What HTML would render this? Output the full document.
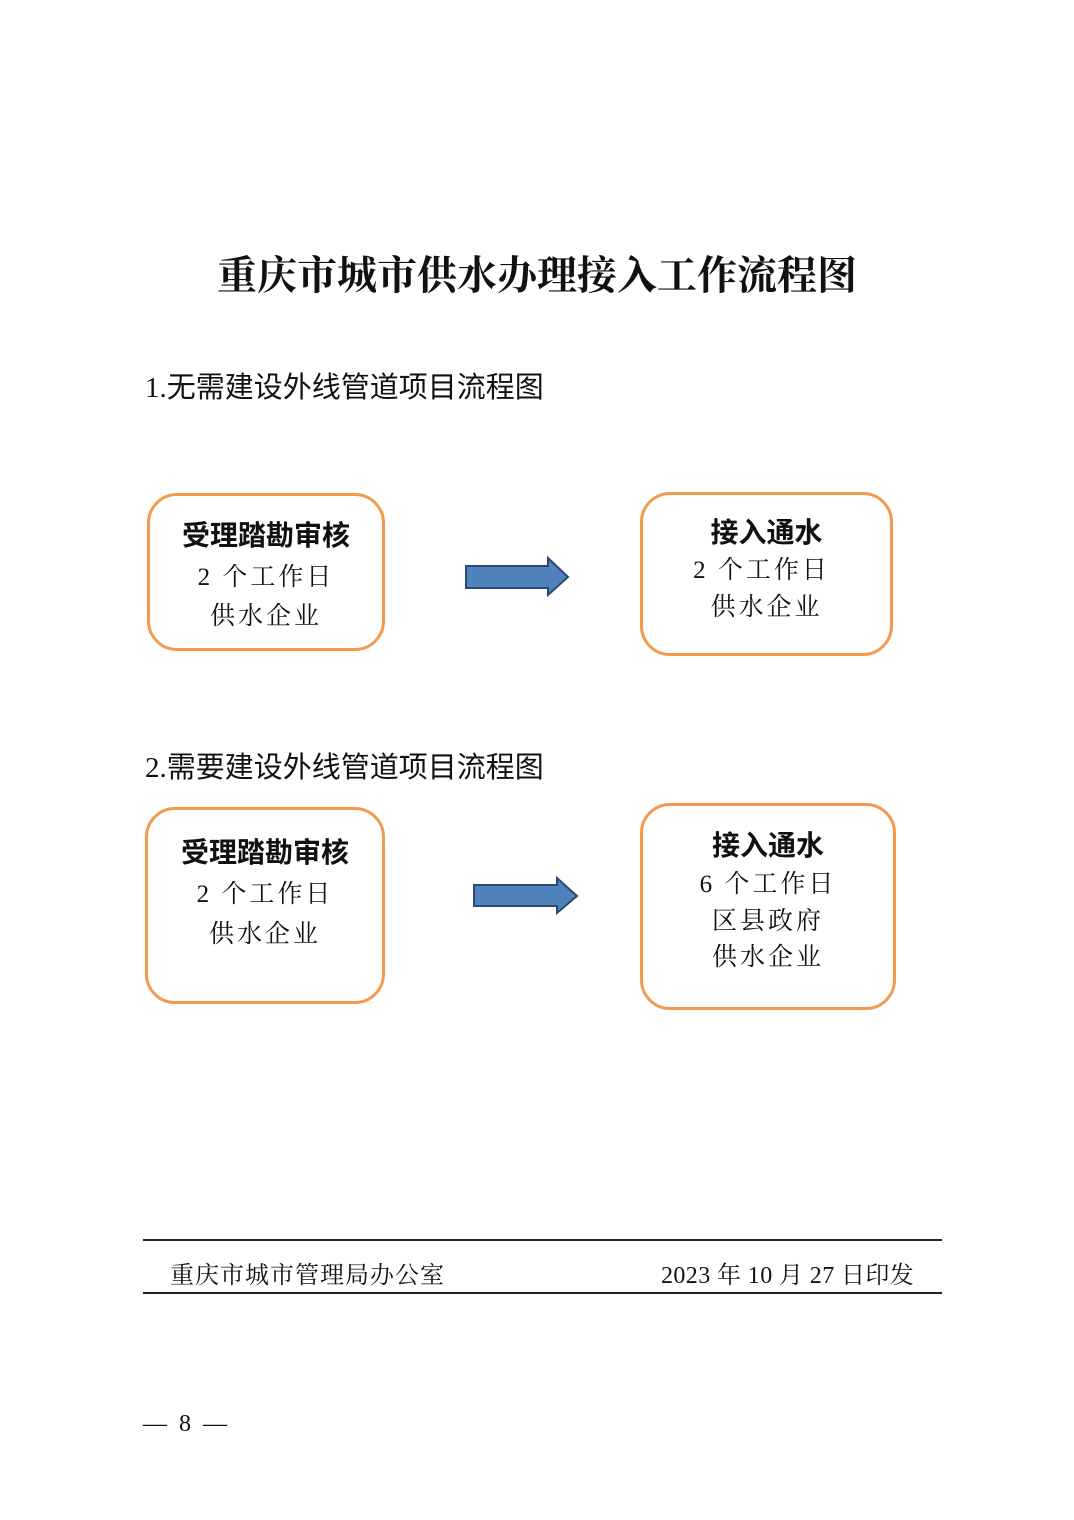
<!DOCTYPE html>
<html><head><meta charset="utf-8"><style>
body{margin:0;width:1074px;height:1520px;background:#fff;position:relative;overflow:hidden;font-family:"Liberation Serif","Noto Serif CJK SC",serif;color:#111}
.a{position:absolute;white-space:nowrap}
.box{position:absolute;border:3px solid #F29B4E;border-radius:30px;box-sizing:border-box}
.t{position:absolute;left:0;right:0;text-align:center;white-space:nowrap}
.h{font-family:"Liberation Sans","Noto Sans CJK SC",sans-serif;font-weight:bold;font-size:28px}
.s{font-size:25px;letter-spacing:3px}
.line{position:absolute;left:143px;width:799px;height:2px;background:#222}
</style></head><body>
<div class="a" style="left:0;right:0;text-align:center;top:244px;font-size:40px;font-weight:bold;font-family:'Noto Serif CJK SC',serif">重庆市城市供水办理接入工作流程图</div>
<div class="a" style="left:145px;top:364px;font-size:29px;font-family:'Liberation Serif','Noto Sans CJK SC',sans-serif">1.无需建设外线管道项目流程图</div>
<div class="a" style="left:145px;top:744px;font-size:29px;font-family:'Liberation Serif','Noto Sans CJK SC',sans-serif">2.需要建设外线管道项目流程图</div>

<div class="box" style="left:147px;top:493px;width:238px;height:158px">
<div class="t h" style="top:18px">受理踏勘审核</div>
<div class="t s" style="top:61px">2 个工作日</div>
<div class="t s" style="top:100px">供水企业</div>
</div>
<div class="box" style="left:640px;top:492px;width:253px;height:164px">
<div class="t h" style="top:16px">接入通水</div>
<div class="t s" style="top:55px;left:-10px">2 个工作日</div>
<div class="t s" style="top:92px">供水企业</div>
</div>
<div class="box" style="left:145px;top:807px;width:240px;height:197px">
<div class="t h" style="top:21px">受理踏勘审核</div>
<div class="t s" style="top:64px">2 个工作日</div>
<div class="t s" style="top:104px">供水企业</div>
</div>
<div class="box" style="left:640px;top:803px;width:256px;height:207px">
<div class="t h" style="top:18px">接入通水</div>
<div class="t s" style="top:58px">6 个工作日</div>
<div class="t s" style="top:95px">区县政府</div>
<div class="t s" style="top:131px">供水企业</div>
</div>

<svg class="a" style="left:0;top:0" width="1074" height="1520">
<polygon points="466,566 548,566 548,558 568,577 548,595 548,588 466,588" fill="#4F81BD" stroke="#2A4A75" stroke-width="2"/>
<polygon points="474,885 557,885 557,878 577,896 557,913 557,906 474,906" fill="#4F81BD" stroke="#2A4A75" stroke-width="2"/>
</svg>

<div class="line" style="top:1239px"></div>
<div class="line" style="top:1292px"></div>
<div class="a" style="left:170px;top:1255px;font-size:24px;letter-spacing:1px">重庆市城市管理局办公室</div>
<div class="a" style="left:661px;top:1255px;font-size:24px;letter-spacing:0.4px">2023 年 10 月 27 日印发</div>
<div class="a" style="left:143px;top:1411px;font-size:24px">—&nbsp;&nbsp;8&nbsp;&nbsp;—</div>
</body></html>
